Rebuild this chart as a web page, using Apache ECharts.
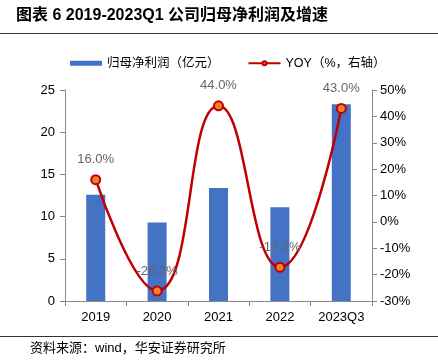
<!DOCTYPE html>
<html>
<head>
<meta charset="utf-8">
<script src="https://cdn.jsdelivr.net/npm/echarts@6/dist/echarts.min.js"></script>
<style>
  html, body {margin: 0; padding: 0; background: #fff;}
  #main {width: 438px; height: 364px;}
</style>
</head>
<body>
<div id="main"></div>
<script>
// 数据
var years = ["2019", "2020", "2021", "2022", "2023Q3"];
var profit = [12.6, 9.3, 13.4, 11.1, 23.3];
var yoy = [16.0, -26.2, 44.0, -17.2, 43.0];

var font = "'Liberation Sans', 'Noto Sans CJK SC', sans-serif";
var chart = echarts.init(document.getElementById("main"));

chart.setOption({
    animation: false,
    textStyle: {fontFamily: font},
    graphic: [
        {type: "text", left: 16, top: 8, style: {text: "图表 6 2019-2023Q1 公司归母净利润及增速", font: "bold 16px " + font, fill: "#000"}},
        {type: "line", shape: {x1: 0, y1: 33.5, x2: 438, y2: 33.5}, style: {stroke: "#333", lineWidth: 1}},
        {type: "line", shape: {x1: 0, y1: 336.5, x2: 438, y2: 336.5}, style: {stroke: "#333", lineWidth: 1}},
        {type: "text", left: 30, top: 342, style: {text: "资料来源：wind，华安证券研究所", font: "13px " + font, fill: "#000"}}
    ],
    legend: {
        top: 52, left: 65, itemGap: 28, itemWidth: 32, itemHeight: 5,
        textStyle: {fontSize: 12.5, color: "#000", fontFamily: font},
        data: [
            {name: "归母净利润（亿元）", icon: "rect"},
            {name: "YOY（%，右轴）"}
        ]
    },
    grid: {left: 65, right: 66, top: 90, bottom: 63},
    xAxis: {
        type: "category", data: years,
        axisLine: {lineStyle: {color: "#888"}},
        axisTick: {show: true, lineStyle: {color: "#888"}},
        axisLabel: {color: "#000", fontSize: 13, margin: 10}
    },
    yAxis: [
        {type: "value", min: 0, max: 25, interval: 5,
            axisLine: {show: true, lineStyle: {color: "#888"}},
            axisTick: {show: true, lineStyle: {color: "#888"}},
            splitLine: {show: false},
            axisLabel: {color: "#000", fontSize: 13, margin: 10}},
        {type: "value", min: -30, max: 50, interval: 10, position: "right",
            axisLine: {show: true, lineStyle: {color: "#888"}},
            axisTick: {show: true, lineStyle: {color: "#888"}},
            splitLine: {show: false},
            axisLabel: {color: "#000", fontSize: 13, margin: 8, formatter: "{value}%"}}
    ],
    series: [
        {name: "归母净利润（亿元）", type: "bar", data: profit, barWidth: 19,
            itemStyle: {color: "#4472C4"}},
        {name: "YOY（%，右轴）", type: "line", yAxisIndex: 1, data: yoy, smooth: 0.5,
            symbol: "circle", symbolSize: 9,
            lineStyle: {color: "#C00000", width: 2.5},
            itemStyle: {color: "#F08030", borderColor: "#C00000", borderWidth: 2},
            label: {show: true, position: "top", distance: 8, color: "#666", fontSize: 13,
                formatter: function(p) {return p.value.toFixed(1) + "%"}}}
    ]
});
</script>
</body>
</html>
